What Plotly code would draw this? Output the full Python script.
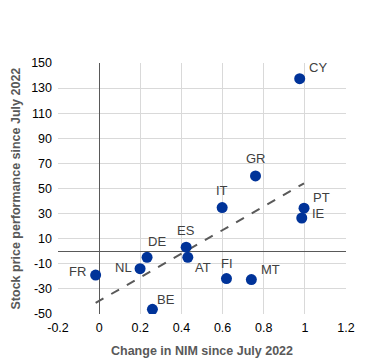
import numpy as np
import plotly.graph_objects as go

countries = ["CY", "GR", "IT", "PT", "IE", "ES", "AT", "DE", "NL", "FR", "FI", "MT", "BE"]
nim_change = [0.975, 0.76, 0.598, 0.996, 0.985, 0.423, 0.431, 0.233, 0.199, -0.017, 0.619, 0.74, 0.259]
stock_perf = [137.5, 60.0, 34.8, 34.3, 26.5, 3.2, -4.8, -4.8, -13.9, -19.0, -21.8, -22.6, -46.3]

x_ticks = [-0.2, 0, 0.2, 0.4, 0.6, 0.8, 1.0, 1.2]
x_ticktext = ["-0.2", "0", "0.2", "0.4", "0.6", "0.8", "1", "1.2"]
y_ticks = [-50, -30, -10, 10, 30, 50, 70, 90, 110, 130, 150]
y_ticktext = [str(v) for v in y_ticks]

x_title = "Change in NIM since July 2022"
y_title = "Stock price performance since July 2022"

# label pixel offsets (styling, not data)
label_offsets = {
    "CY": (18, 11), "GR": (1, 17), "IT": (0, 17), "PT": (17, 11), "IE": (17, 4),
    "ES": (0, 17), "AT": (15, -10), "DE": (10, 16), "NL": (-17, 1), "FR": (-18, 4),
    "FI": (1, 15), "MT": (19, 10), "BE": (14, 10),
}

FONT = "Liberation Sans, Arial, sans-serif"

# OLS trend line
slope, intercept = np.polyfit(nim_change, stock_perf, 1)
tx = np.array([min(nim_change), max(nim_change)])
ty = slope * tx + intercept

fig = go.Figure()
fig.add_trace(go.Scatter(x=tx, y=ty, mode="lines",
                         line=dict(color="#595959", width=2, dash="dash"),
                         hoverinfo="skip", showlegend=False))
fig.add_trace(go.Scatter(x=nim_change, y=stock_perf, mode="markers",
                         marker=dict(color="#003399", size=11),
                         showlegend=False))

for c, x, y in zip(countries, nim_change, stock_perf):
    dx, dy = label_offsets[c]
    fig.add_annotation(x=x, y=y, text=c, showarrow=False,
                       xshift=dx, yshift=dy,
                       font=dict(family=FONT, size=13, color="#404040"))

fig.add_annotation(xref="paper", yref="paper", x=0.5, y=0, yanchor="middle",
                   yshift=-37, text="<b>" + x_title + "</b>", showarrow=False,
                   font=dict(family=FONT, size=12.5, color="#595959"))
fig.add_annotation(xref="paper", yref="paper", x=0, y=0.5, xanchor="center",
                   xshift=-43, textangle=-90, text="<b>" + y_title + "</b>",
                   showarrow=False,
                   font=dict(family=FONT, size=12.5, color="#595959"))

# page body has an 8px margin; size the figure so the plot area lands where the reference has it
fig.update_layout(
    width=362, height=351,
    margin=dict(l=50, r=24, t=55, b=45, autoexpand=False),
    paper_bgcolor="white", plot_bgcolor="white",
    font=dict(family=FONT, size=12, color="#000000"),
    xaxis=dict(range=[-0.2, 1.2], tickvals=x_ticks, ticktext=x_ticktext,
               showgrid=True, gridcolor="#d9d9d9", gridwidth=1,
               zeroline=True, zerolinecolor="#595959", zerolinewidth=1,
               showline=False, ticks="", automargin=False,
               ticklabelstandoff=4,
               tickfont=dict(size=12.5)),
    yaxis=dict(range=[-50, 150], tickvals=y_ticks, ticktext=y_ticktext,
               showgrid=True, gridcolor="#d9d9d9", gridwidth=1,
               zeroline=True, zerolinecolor="#595959", zerolinewidth=1,
               showline=False, ticks="", automargin=False,
               ticklabelstandoff=5,
               tickfont=dict(size=12.5)),
)

fig.write_html("out.html")
